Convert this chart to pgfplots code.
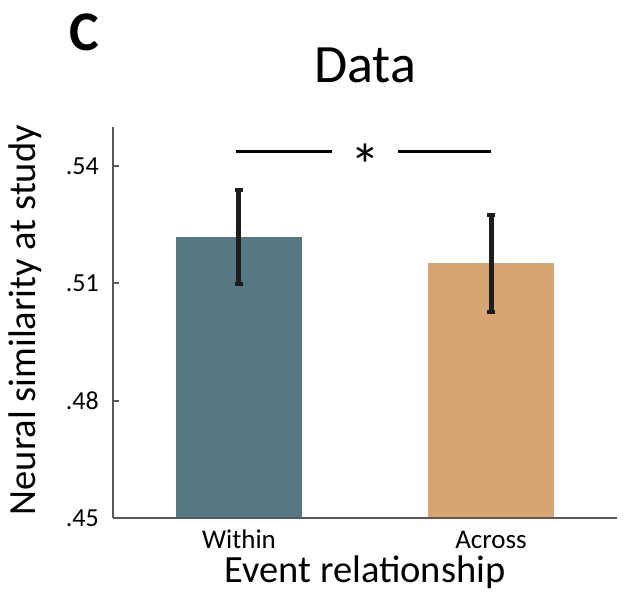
\documentclass[border=0pt]{standalone}
\usepackage{pgfplots}
\pgfplotsset{compat=1.18}
\usepackage{fontspec}
\setmainfont{Carlito}

\definecolor{withinc}{RGB}{85,120,131}
\definecolor{acrossc}{RGB}{215,164,116}
\definecolor{axisgray}{RGB}{88,88,88}
\definecolor{barblack}{RGB}{30,30,30}

\newcommand{\fs}[1]{\fontsize{#1}{#1}\selectfont}

\begin{document}
\begin{tikzpicture}
\path[use as bounding box] (-113bp,-75bp) rectangle (517bp,518bp);
\begin{axis}[
  at={(0,0)}, anchor=south west,
  scale only axis,
  width=504bp, height=391bp,
  xmin=-0.5, xmax=1.5,
  ymin=0.45, ymax=0.55,
  axis x line*=bottom, axis y line*=left,
  axis line style={axisgray, line width=2.5bp},
  axis on top,
  xtick={0,1}, xticklabels={Within,Across},
  xtick style={draw=none},
  ytick={0.45,0.48,0.51,0.54}, yticklabels={.45,.48,.51,.54},
  tick align=inside,
  ytick style={axisgray, line width=2bp},
  major tick length=6bp,
  xticklabel style={font=\fs{27bp}, anchor=base, yshift=-30bp, inner sep=0pt},
  yticklabel style={font=\fs{26bp}, anchor=east, inner sep=0pt, xshift=-14bp},
  xlabel={Event relationship},
  xlabel style={font=\fs{38.5bp}, at={(axis description cs:0.5,-0.1637)}, anchor=base},
  ylabel={Neural similarity at study},
  ylabel style={font=\fs{38.5bp}, at={(axis description cs:-0.1528,0.506)}, anchor=base, rotate=0},
  title={Data},
  title style={font=\fs{54bp}, at={(axis description cs:0.5,1.0997)}, anchor=base, yshift=0pt},
  clip=false,
  error bars/error bar style={barblack, line width=5bp},
  error bars/error mark options={barblack, line width=4bp, mark size=4bp, rotate=90},
]
% condition means with standard errors
\addplot[ybar, bar width=126bp, bar shift=0pt, fill=withinc, draw=none,
  error bars/.cd, y dir=both, y explicit]
  coordinates {(0,0.5218) +- (0,0.0120)};
\addplot[ybar, bar width=126bp, bar shift=0pt, fill=acrossc, draw=none,
  error bars/.cd, y dir=both, y explicit]
  coordinates {(1,0.5152) +- (0,0.0124)};
% significance bracket
\addplot[black, line width=3bp] coordinates {(-0.01,0.5438) (0.37,0.5438)};
\addplot[black, line width=3bp] coordinates {(0.63,0.5438) (1.0,0.5438)};
\node[font=\fs{60bp}, anchor=base] at (axis cs:0.5,0.5348) {*};
\node[font=\fs{56bp}\bfseries, anchor=base west] at (axis description cs:-0.0933,1.1969) {C};
\end{axis}
\end{tikzpicture}
\end{document}
